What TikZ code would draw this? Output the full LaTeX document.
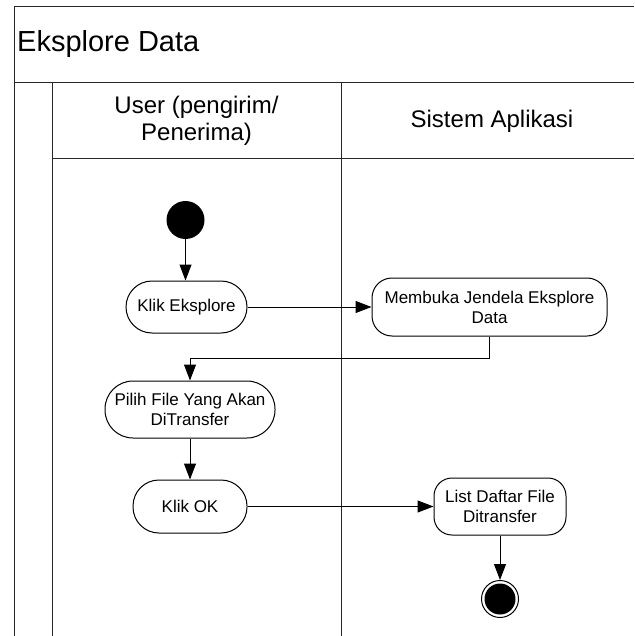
\documentclass[tikz,border=0pt]{standalone}
\usepackage{fontspec}
\setmainfont{Liberation Sans}
\usetikzlibrary{arrows.meta}
\begin{document}
\begin{tikzpicture}[x=1pt,y=-1pt,
  lane/.style={line width=1pt,draw=black!85},
  act/.style={draw,line width=1pt,align=center,inner sep=0pt,
    font=\fontsize{17pt}{20pt}\selectfont},
  flow/.style={line width=1pt,-{Triangle[length=16pt,width=12pt]}},
  hdr/.style={align=center,font=\fontsize{24pt}{27pt}\selectfont}]
\useasboundingbox (0,0) rectangle (634,636);
% swimlane frame
\draw[lane] (634,7) -- (14,7) -- (14,636);
\draw[lane] (14,82.5) -- (634,82.5);
\draw[lane] (52,82.5) -- (52,636);
\draw[lane] (52,159) -- (634,159);
\draw[lane] (341,82.5) -- (341,636);
\node[anchor=west,inner sep=0pt,font=\fontsize{29pt}{33pt}\selectfont] (title) at (17,44.5) {Eksplore Data};
\node[hdr] (lane1) at (196.5,121) {User (pengirim/\\Penerima)};
\node[hdr] (lane2) at (492,121) {Sistem Aplikasi};
% nodes
\node[circle,fill=black,minimum size=38pt,inner sep=0pt] (start) at (185.5,220) {};
\node[act,rounded corners=26pt,minimum width=121pt,minimum height=52pt] (klik) at (186.5,307) {Klik Eksplore};
\node[act,rounded corners=20pt,minimum width=235pt,minimum height=58pt] (buka) at (489.5,307) {Membuka Jendela Eksplore\\Data};
\node[act,rounded corners=28pt,minimum width=170pt,minimum height=57pt] (pilih) at (190,409.5) {Pilih File Yang Akan\\DiTransfer};
\node[act,rounded corners=26pt,minimum width=114pt,minimum height=53pt] (ok) at (190,506.5) {Klik OK};
\node[act,rounded corners=18pt,minimum width=132pt,minimum height=57pt] (list) at (500,506.5) {List Daftar File\\Ditransfer};
\node[circle,draw,line width=1pt,minimum size=37pt,inner sep=0pt] (end) at (500,599) {};
\fill (end.center) circle (15.5pt);
% connectors
\draw[flow] (start) -- (start |- klik.north);
\draw[flow] (klik.east) -- (buka.west |- klik.east);
\draw[flow] (buka.south) -- ++(0,22) -| (pilih.north);
\draw[flow] (pilih.south) -- (ok.north);
\draw[flow] (ok.east) -- (list.west |- ok.east);
\draw[flow] (list.south) -- (end.north);
\end{tikzpicture}
\end{document}
